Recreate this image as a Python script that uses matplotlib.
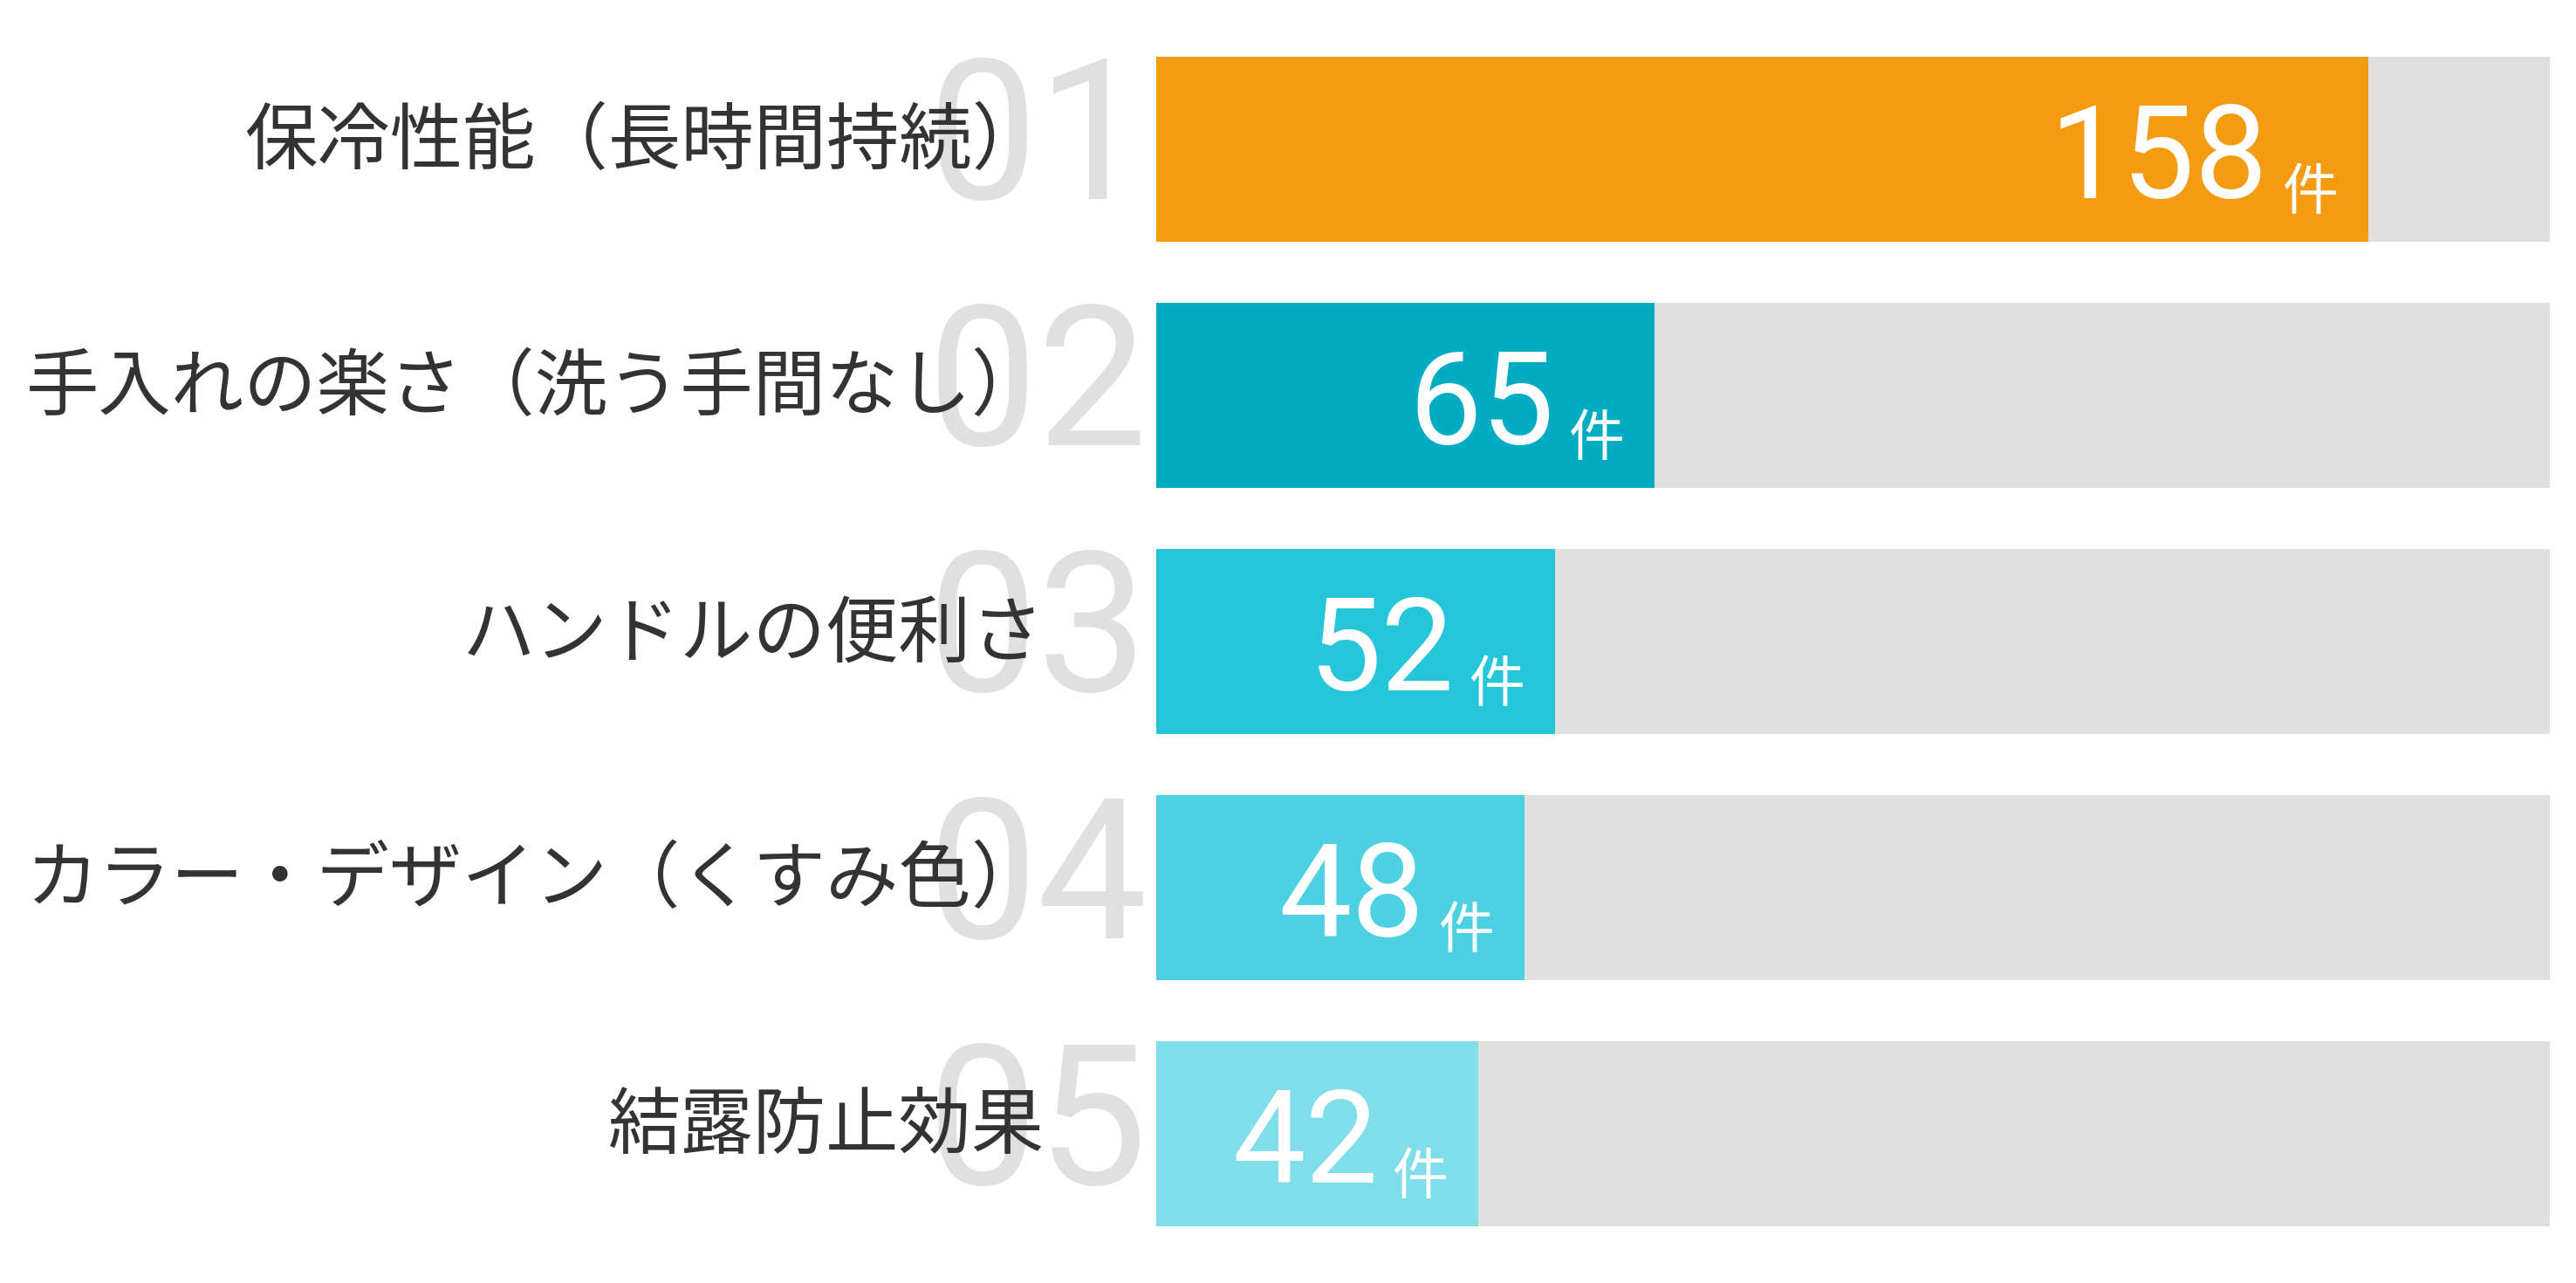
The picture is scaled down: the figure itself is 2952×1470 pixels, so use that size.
import matplotlib.pyplot as plt

plt.rcParams['font.family'] = ['Noto Sans CJK JP', 'DejaVu Sans']

# data
labels = [
    "保冷性能（長時間持続）",
    "手入れの楽さ（洗う手間なし）",
    "ハンドルの便利さ",
    "カラー・デザイン（くすみ色）",
    "結露防止効果",
]
ranks = ["01", "02", "03", "04", "05"]
counts = [158, 65, 52, 48, 42]
unit = "件"
colors = ["#F39C12", "#00ACC1", "#26C6DA", "#4DD0E1", "#80DEEA"]

track = max(counts) * 1.15

fig = plt.figure(figsize=(29.52, 14.70), dpi=100)
ax = fig.add_axes([0.4488, 0.0204, 0.541, 0.9592])

pos = list(range(len(counts)))

# gray track behind each bar
ax.barh(pos, [track] * len(counts), height=0.752, color="#E0E0E0", zorder=1)
ax.barh(pos, counts, height=0.752, color=colors, zorder=2)

ax.set_xlim(0, track)
ax.set_ylim(len(counts) - 0.5, -0.5)
ax.axis("off")

for i, (lab, rk, val) in enumerate(zip(labels, ranks, counts)):

    # big faded rank number
    ax.annotate(rk, xy=(0, i), xytext=(-10, 4), textcoords="offset pixels",
                ha="right", va="center", fontsize=162, color="#E0E0E0",
                family="Roboto", zorder=0, annotation_clip=False)

    # category label
    ax.annotate(lab, xy=(0, i), xytext=(-128, 8), textcoords="offset pixels",
                ha="right", va="center", fontsize=60, color="#333333",
                zorder=5, annotation_clip=False)

    # value + unit inside the bar
    ax.annotate(unit, xy=(val, i), xytext=(-34, -69), textcoords="offset pixels",
                ha="right", va="baseline", fontsize=46, color="white", zorder=6)
    ax.annotate(str(val), xy=(val, i), xytext=(-115, -56), textcoords="offset pixels",
                ha="right", va="baseline", fontsize=107, color="white",
                family="Roboto", zorder=6)

fig.savefig("out.png", dpi=100)
plt.close(fig)
